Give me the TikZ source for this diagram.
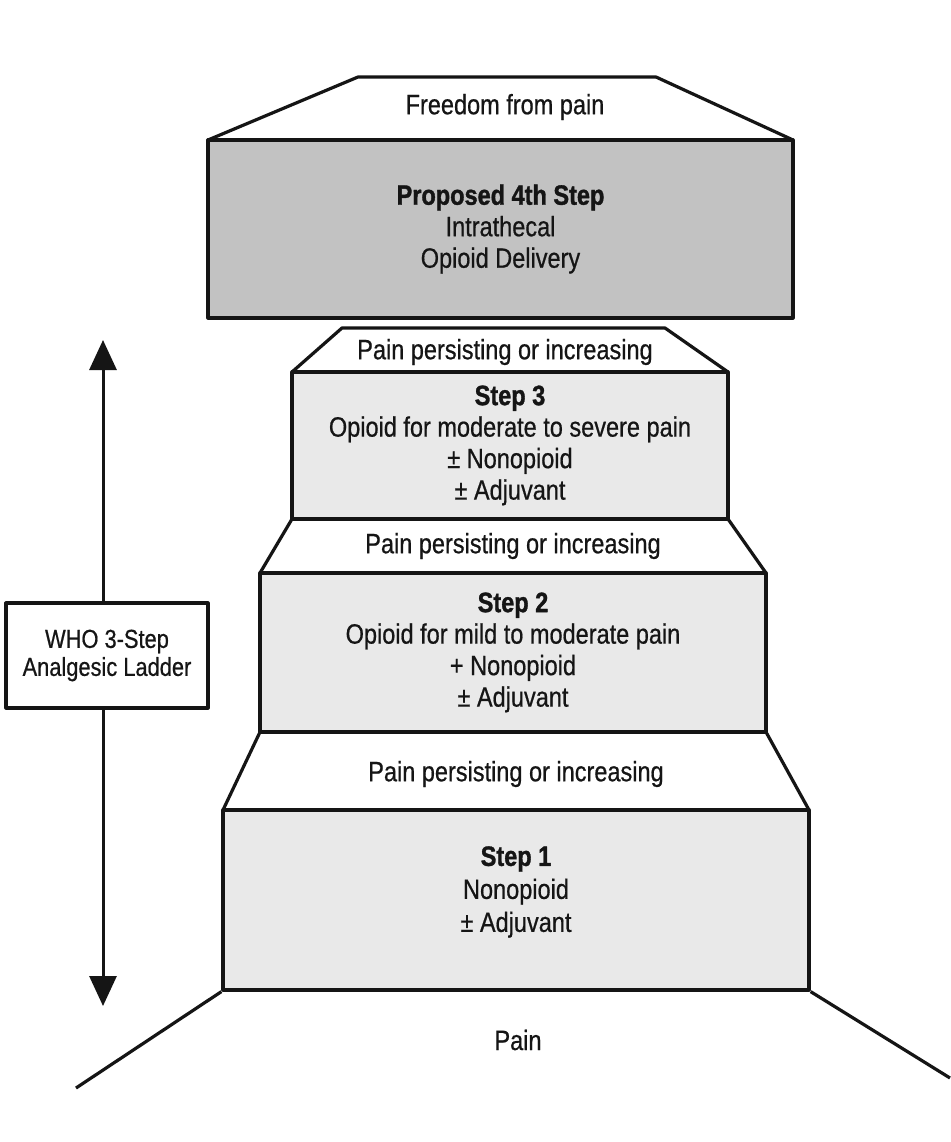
\documentclass[tikz,border=0pt]{standalone}
\usepackage{fontspec}
\setmainfont[FakeStretch=0.84,FakeBold=0.6,BoldFeatures={FakeStretch=0.84,FakeBold=1.2}]{Liberation Sans}
\usetikzlibrary{arrows.meta}
\definecolor{topgray}{HTML}{C2C2C2}
\definecolor{stepgray}{HTML}{E9E9E9}
\definecolor{ink}{HTML}{151515}
\begin{document}
\begin{tikzpicture}[x=1pt,y=-1pt,line join=round,
  outline/.style={draw=ink,line width=3.2pt},
  bigtext/.style={font=\fontsize{28}{31.5}\selectfont,text=ink,align=center},
  stepbox/.style={outline,fill=stepgray,inner sep=0pt,bigtext},
  captext/.style={bigtext,inner sep=0pt},
  whobox/.style={outline,fill=white,inner sep=0pt,align=center,text=ink,font=\fontsize{26}{28}\selectfont},
  ladderarrow/.style={draw=ink,line width=3pt,-{Triangle[width=27pt,length=30pt]}}
]
\useasboundingbox (0,0) rectangle (950,1142);
\fill[white] (0,0) rectangle (950,1142);

% caps (trapezoids)
\draw[outline,fill=white] (208,140) -- (358,77) -- (656,77) -- (793,140);
\draw[outline,fill=white] (292,372) -- (342,328) -- (665,328) -- (728,372);
\draw[outline,fill=white] (260,573) -- (292,519) -- (728,519) -- (766,573);
\draw[outline,fill=white] (223,810) -- (260,732) -- (766,732) -- (809,810);

% cap texts
\node[captext] (free) at (505,107) {Freedom from pain};
\node[captext] (pp3) at (505,352) {Pain persisting or increasing};
\node[captext] (pp2) at (513,546) {Pain persisting or increasing};
\node[captext] (pp1) at (516,774) {Pain persisting or increasing};

% boxes
\node[stepbox,fill=topgray,minimum width=585pt,minimum height=178pt] (s4) at (500.5,229)
  {\textbf{Proposed 4th Step}\\Intrathecal\\Opioid Delivery};
\node[stepbox,minimum width=436pt,minimum height=147pt] (s3) at (510,445.5)
  {\textbf{Step 3}\\Opioid for moderate to severe pain\\± Nonopioid\\± Adjuvant};
\node[stepbox,minimum width=506pt,minimum height=159pt] (s2) at (513,652.5)
  {\textbf{Step 2}\\Opioid for mild to moderate pain\\+ Nonopioid\\± Adjuvant};
\node[stepbox,minimum width=586pt,minimum height=180pt] (s1) at (516,900) {};
\node[bigtext,font=\fontsize{28}{33}\selectfont] (s1text) at (516,892)
  {\textbf{Step 1}\\Nonopioid\\± Adjuvant};

% floor lines
\coordinate (fl) at (76,1088);
\coordinate (fr) at (950,1078);
\draw[outline] (s1.south west) -- (fl);
\draw[outline] (s1.south east) -- (fr);
\node[captext] (pain) at (518,1040) {Pain};

% WHO ladder arrow
\coordinate (atop) at (103,340);
\coordinate (abot) at (103,1006);
\node[whobox,minimum width=202pt,minimum height=105pt] (who) at (107,655.5)
  {WHO 3-Step\\Analgesic Ladder};
\draw[ladderarrow] (who.north -| atop) -- (atop);
\draw[ladderarrow] (who.south -| abot) -- (abot);
\end{tikzpicture}
\end{document}
